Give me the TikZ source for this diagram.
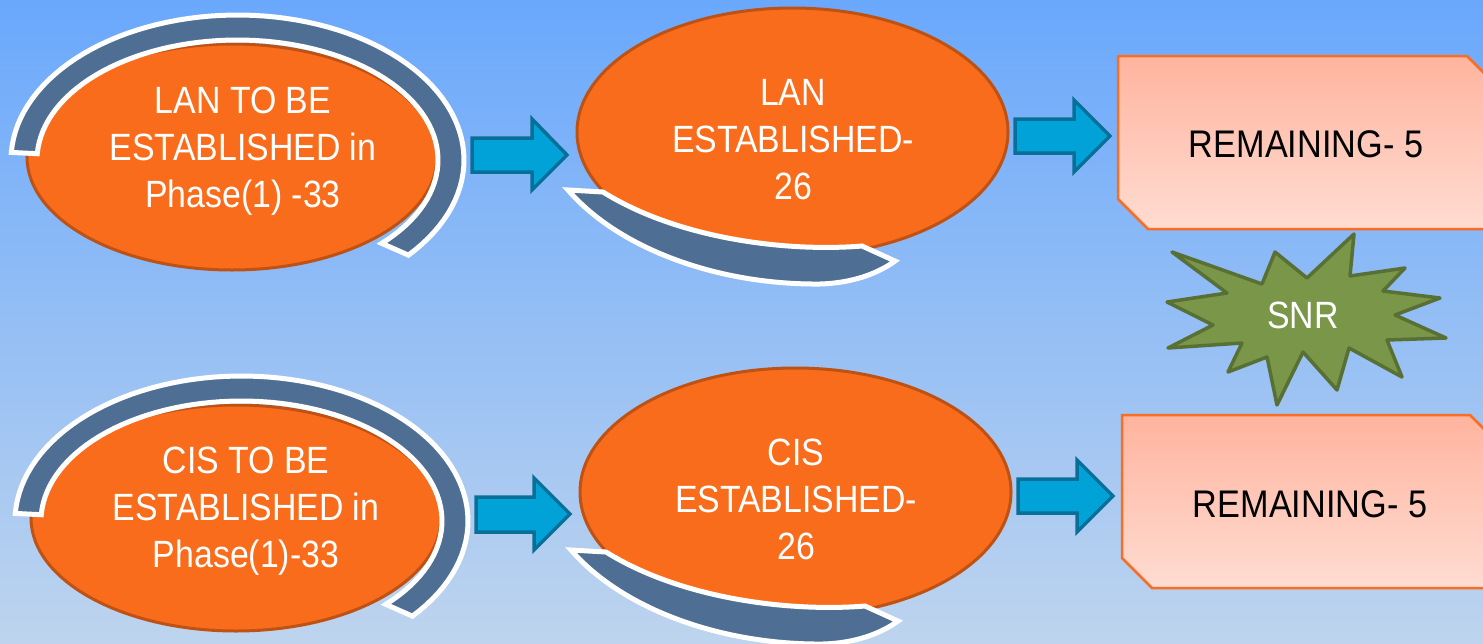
\documentclass[tikz,border=0pt]{standalone}
\usepackage{fontspec}
\setmainfont{Liberation Sans}[FakeStretch=0.89]
\usetikzlibrary{shapes.geometric}
\definecolor{bgtop}{RGB}{106,168,252}
\definecolor{bgmid}{RGB}{128,188,250}
\definecolor{bgbot}{RGB}{190,212,238}
\definecolor{orfill}{RGB}{249,108,27}
\definecolor{ordraw}{RGB}{190,82,20}
\definecolor{bandfill}{RGB}{79,110,148}
\definecolor{arrfill}{RGB}{0,162,216}
\definecolor{arrdraw}{RGB}{8,112,152}
\definecolor{starfill}{RGB}{122,150,72}
\definecolor{stardraw}{RGB}{88,112,52}
\definecolor{remtop}{RGB}{255,180,158}
\definecolor{remmid}{RGB}{255,214,202}
\definecolor{rembot}{RGB}{255,220,210}
\definecolor{remdraw}{RGB}{250,110,35}
\begin{document}
\begin{tikzpicture}[x=1pt,y=-1pt,
  orangeell/.style={ellipse, fill=orfill, draw=ordraw, line width=3pt, inner sep=0pt},
  band/.style={fill=bandfill, draw=white, line width=5pt, line join=miter},
  blockarrow/.style={fill=arrfill, draw=arrdraw, line width=3.5pt, line join=miter},
  rembox/.style={top color=remtop, middle color=remmid, bottom color=rembot, draw=remdraw, line width=2.5pt},
  starshape/.style={fill=starfill, draw=stardraw, line width=3.5pt, line join=round},
  wtext/.style={text=white, align=center, anchor=base, inner sep=0pt, font=\fontsize{38}{47}\selectfont},
  btext/.style={text=black, align=center, anchor=base, inner sep=0pt, font=\fontsize{38.5}{47}\selectfont}
]
\useasboundingbox (0,0) rectangle (1483,643);
\clip (0,0) rectangle (1483,643);
\shade[top color=bgtop, middle color=bgmid, bottom color=bgbot] (0,0) rectangle (1483,643);

% ---------- top row ----------
\node[orangeell, minimum width=410pt, minimum height=226pt] (e1) at (232,157) {};
\draw[band] plot[domain=183:401,samples=80] ({237.5+226.5*cos(\x)},{160+145*sin(\x)})
  -- plot[domain=404:183,samples=80] ({237.5+200.5*cos(\x)},{160+120*sin(\x)}) -- cycle;
\node[orangeell, minimum width=431pt, minimum height=248pt] (e2) at (792.5,132) {};
\draw[band] (568,190) .. controls (620,250) and (720,285) .. (820,284)
  .. controls (855,283) and (880,272) .. (895,261) -- (862,246)
  .. controls (790,252) and (680,240) .. (603,192) -- cycle;

\draw[blockarrow] (472,138) -- (532,138) -- (532,119) -- (567,155) -- (532,190) -- (532,172) -- (472,172) -- cycle;
\draw[blockarrow] (1015,119) -- (1074,119) -- (1074,100) -- (1110,136) -- (1074,172) -- (1074,153) -- (1015,153) -- cycle;

\shade[rembox] (1118,56) -- (1467,56) -- (1510,99) -- (1510,229) -- (1148,229) -- (1118,199) -- cycle;

\node[wtext] (t1) at (243,207) {LAN TO BE\\ESTABLISHED in\\Phase(1) -33};
\node[wtext] (t2) at (793,199) {LAN\\ESTABLISHED-\\26};
\node[btext] (r1) at (1306,157) {REMAINING- 5};

% ---------- star ----------
\draw[starshape] (1172,252) -- (1262,284) -- (1275,252) -- (1307,278) -- (1354,234) -- (1350,276)
  -- (1405,268) -- (1383,291) -- (1440,298) -- (1395,315) -- (1446,338) -- (1387,340)
  -- (1402,377) -- (1349,348) -- (1337,390) -- (1303,352) -- (1277,405) -- (1267,357)
  -- (1228,372) -- (1242,343) -- (1168,348) -- (1213,325) -- (1167,302) -- (1227,293) -- cycle;
\node[wtext] (snr) at (1303,328) {SNR};

% ---------- bottom row ----------
\node[orangeell, minimum width=410pt, minimum height=226pt] (e3) at (236,518) {};
\begin{scope}[shift={(4,361)}]
\draw[band] plot[domain=183:401,samples=80] ({237.5+226.5*cos(\x)},{160+145*sin(\x)})
  -- plot[domain=404:183,samples=80] ({237.5+200.5*cos(\x)},{160+120*sin(\x)}) -- cycle;
\end{scope}
\node[orangeell, minimum width=431pt, minimum height=248pt] (e4) at (795.5,492) {};
\begin{scope}[shift={(3,360)}]
\draw[band] (568,190) .. controls (620,250) and (720,285) .. (820,284)
  .. controls (855,283) and (880,272) .. (895,261) -- (862,246)
  .. controls (790,252) and (680,240) .. (603,192) -- cycle;
\end{scope}

\draw[blockarrow] (476,497) -- (534,497) -- (534,478) -- (570,514) -- (534,550) -- (534,532) -- (476,532) -- cycle;
\draw[blockarrow] (1018,479) -- (1077,479) -- (1077,460) -- (1113,496) -- (1077,532) -- (1077,513) -- (1018,513) -- cycle;

\shade[rembox] (1122,415) -- (1470,415) -- (1510,455) -- (1510,588) -- (1152,588) -- (1122,558) -- cycle;

\node[wtext] (t3) at (246,567) {CIS TO BE\\ESTABLISHED in\\Phase(1)-33};
\node[wtext] (t4) at (796,559) {CIS\\ESTABLISHED-\\26};
\node[btext] (r2) at (1310,517) {REMAINING- 5};
\end{tikzpicture}
\end{document}
